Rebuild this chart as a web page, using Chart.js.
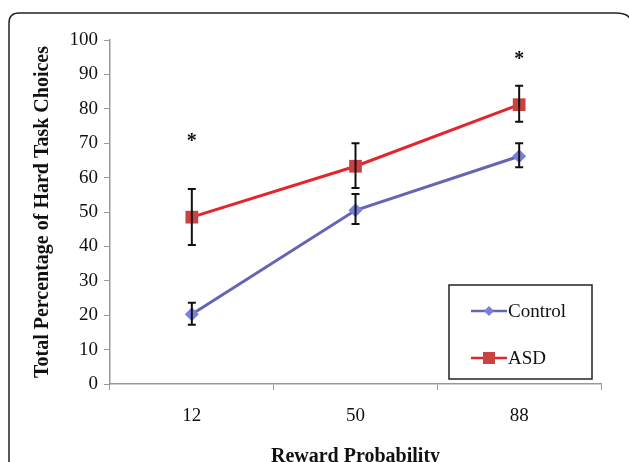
<!DOCTYPE html>
<html>
<head>
<meta charset="utf-8">
<script src="https://cdn.jsdelivr.net/npm/chart.js@4"></script>
<style>
html,body{margin:0;padding:0;background:#fff;}
#wrap{width:629px;height:462px;position:relative;}
</style>
</head>
<body>
<div id="wrap"><canvas id="c" width="629" height="462"></canvas></div>
<script>
const categories = ['12', '50', '88'];
const controlValues = [20.3, 50.5, 66.2];
const controlUpper = [23.6, 55.2, 70.0];
const controlLower = [17.2, 46.5, 63.0];
const asdValues = [48.5, 63.3, 81.2];
const asdUpper = [56.7, 70.0, 86.7];
const asdLower = [40.4, 57.0, 76.2];
const starCategories = ['12', '88'];
const starValues = [71.5, 95.3];
const yTitle = 'Total Percentage of Hard Task Choices';
const xTitle = 'Reward Probability';

const serif = '"Liberation Serif", "DejaVu Serif", serif';

const framePlugin = {
  id: 'frame',
  beforeDraw(chart) {
    const ctx = chart.ctx;
    ctx.save();
    ctx.fillStyle = '#fff';
    ctx.fillRect(0, 0, chart.width, chart.height);
    ctx.strokeStyle = '#222';
    ctx.lineWidth = 1.5;
    const x0 = 9, y0 = 13, y1 = 480, r = 10;
    ctx.beginPath();
    ctx.moveTo(x0, y1);
    ctx.lineTo(x0, y0 + r);
    ctx.quadraticCurveTo(x0, y0, x0 + r, y0);
    ctx.lineTo(625 - r, y0);
    ctx.quadraticCurveTo(628, y0, 630, y0 + 6);
    ctx.stroke();
    ctx.restore();
  }
};

const errorPlugin = {
  id: 'errbars',
  afterDatasetsDraw(chart) {
    const ctx = chart.ctx;
    const xs = chart.scales.x, ys = chart.scales.y;
    ctx.save();
    ctx.strokeStyle = '#111';
    ctx.lineWidth = 2;
    const sets = [[controlUpper, controlLower], [asdUpper, asdLower]];
    sets.forEach(([up, lo]) => {
      categories.forEach((c, i) => {
        const x = xs.getPixelForValue(i);
        const yt = ys.getPixelForValue(up[i]);
        const yb = ys.getPixelForValue(lo[i]);
        ctx.beginPath();
        ctx.moveTo(x, yt); ctx.lineTo(x, yb);
        ctx.moveTo(x - 4, yt); ctx.lineTo(x + 4, yt);
        ctx.moveTo(x - 4, yb); ctx.lineTo(x + 4, yb);
        ctx.stroke();
      });
    });
    ctx.fillStyle = '#111';
    ctx.font = 'bold 20px ' + serif;
    ctx.textAlign = 'center';
    ctx.textBaseline = 'middle';
    starCategories.forEach((c, i) => {
      const x = xs.getPixelForValue(categories.indexOf(c));
      const y = ys.getPixelForValue(starValues[i]);
      ctx.fillText('*', x, y + 4);
    });
    ctx.restore();
  },
  afterDraw(chart) {
    const ctx = chart.ctx;
    ctx.save();
    ctx.strokeStyle = '#222';
    ctx.lineWidth = 1.5;
    ctx.fillStyle = '#fff';
    ctx.fillRect(449, 285, 143, 94);
    ctx.strokeRect(449, 285, 143, 94);
    const items = [
      {label: 'Control', color: '#6565b5', marker: 'diamond', fill: '#7b7fdc', y: 311},
      {label: 'ASD', color: '#e3262d', marker: 'square', fill: '#c94343', y: 358}
    ];
    items.forEach(it => {
      ctx.strokeStyle = it.color;
      ctx.lineWidth = 2.5;
      ctx.beginPath();
      ctx.moveTo(471, it.y); ctx.lineTo(507, it.y);
      ctx.stroke();
      ctx.fillStyle = it.fill;
      if (it.marker === 'diamond') {
        ctx.beginPath();
        ctx.moveTo(489, it.y - 5); ctx.lineTo(494, it.y); ctx.lineTo(489, it.y + 5); ctx.lineTo(484, it.y);
        ctx.closePath(); ctx.fill();
      } else {
        ctx.fillRect(483, it.y - 6, 12, 12);
      }
      ctx.fillStyle = '#111';
      ctx.font = '19px ' + serif;
      ctx.textAlign = 'left';
      ctx.textBaseline = 'middle';
      ctx.fillText(it.label, 508, it.y + 1);
    });
    ctx.restore();
  }
};

new Chart(document.getElementById('c'), {
  type: 'line',
  data: {
    labels: categories,
    datasets: [
      {
        label: 'Control',
        data: controlValues,
        borderColor: '#6565b5',
        backgroundColor: '#7b7fdc',
        borderWidth: 3,
        pointStyle: 'rectRot',
        pointRadius: 7,
        pointBorderWidth: 0,
        tension: 0
      },
      {
        label: 'ASD',
        data: asdValues,
        borderColor: '#e3262d',
        backgroundColor: '#c94343',
        borderWidth: 3,
        pointStyle: 'rect',
        pointRadius: 9,
        pointBorderWidth: 0,
        tension: 0
      }
    ]
  },
  options: {
    responsive: false,
    animation: false,
    devicePixelRatio: 1,
    layout: {padding: {top: 40, right: 28, left: 31, bottom: 0}},
    plugins: {legend: {display: false}, tooltip: {enabled: false}},
    scales: {
      x: {
        type: 'category',
        offset: true,
        grid: {offset: true, drawOnChartArea: false, drawTicks: true, tickLength: 6, color: '#999', tickColor: '#999'},
        border: {display: true, color: '#999', width: 1.5},
        ticks: {color: '#111', font: {family: serif, size: 19}, padding: 15},
        title: {display: true, text: xTitle, color: '#111', font: {family: serif, size: 20, weight: 'bold'}, padding: {top: 0, bottom: -7}},
        afterFit(s) { s.height = 78; }
      },
      y: {
        min: 0, max: 100,
        ticks: {stepSize: 10, color: '#111', font: {family: serif, size: 19}, padding: 6},
        grid: {drawOnChartArea: false, drawTicks: true, tickLength: 6, color: '#999', tickColor: '#999'},
        border: {display: true, color: '#999', width: 1.5},
        title: {display: true, text: yTitle, color: '#111', font: {family: serif, size: 20, weight: 'bold'}, padding: {top: 0, bottom: 6}},
        afterFit(s) { s.width = 79; }
      }
    }
  },
  plugins: [framePlugin, errorPlugin]
});
</script>
</body>
</html>
